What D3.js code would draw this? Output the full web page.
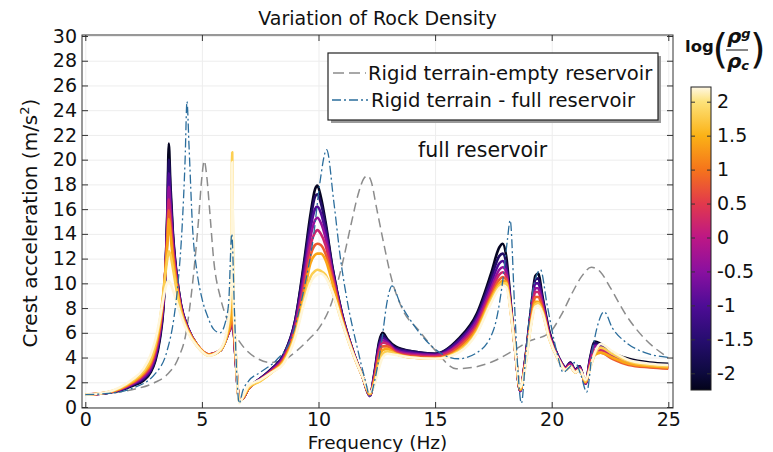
<!DOCTYPE html>
<html><head><meta charset="utf-8">
<script src="https://cdn.jsdelivr.net/npm/d3@7/dist/d3.min.js"></script>
<style>body{margin:0;background:#fff;} svg text{font-family:"DejaVu Sans",sans-serif;}</style>
</head><body><svg id="chart" width="773" height="452"></svg>
<script>
// ---------------- data ----------------
const titleText = "Variation of Rock Density";
const xLabel = "Frequency (Hz)";
const yLabel = "Crest acceleration (m/s";
const annotation = "full reservoir";
const legendLabels = ["Rigid terrain-empty reservoir", "Rigid terrain - full reservoir"];
const xTicks = [0, 5, 10, 15, 20, 25];
const yTicks = [0, 2, 4, 6, 8, 10, 12, 14, 16, 18, 20, 22, 24, 26, 28, 30];
const cbTicks = [2, 1.5, 1, 0.5, 0, -0.5, -1, -1.5, -2];

// colored family (log(rho_g/rho_c)) sampled on a shared frequency grid
const freqGrid = [0, 0.5, 1, 1.5, 2, 2.5, 2.8, 3.0, 3.2, 3.35, 3.45, 3.52, 3.58, 3.65, 3.75, 3.9, 4.1, 4.4, 4.8, 5.3,
  5.8, 6.1, 6.25, 6.3, 6.35, 6.45, 6.6, 6.75, 7.0, 7.5, 8.0, 8.5, 9.0, 9.4, 9.65, 9.85, 9.95, 10.1, 10.3, 10.6,
  11.0, 11.5, 11.9, 12.2, 12.4, 12.6, 12.75, 12.95, 13.3, 14.0, 15.0, 16.0, 16.8, 17.4, 17.75, 17.9, 18.05, 18.25, 18.45, 18.65,
  18.85, 19.1, 19.3, 19.42, 19.6, 19.9, 20.3, 20.6, 20.8, 21.0, 21.2, 21.45, 21.65, 21.85, 22.1, 22.6, 23.3, 24.2, 25];
const logRatios = [-2.2, -1.6, -1.0, -0.4, 0.2, 0.8, 1.4, 1.8, 2.2];
const curveLogm22 = [1.0, 1.05, 1.15, 1.35, 1.7, 2.15, 2.8, 3.7, 5.5, 8.0, 11.5, 16.0, 21.3, 18.0, 14.3, 11.0, 8.3, 6.4, 5.0, 4.25,
  4.6, 5.8, 6.6, 6.9, 6.5, 3.8, 0.6, 0.7, 1.5, 2.3, 3.1, 4.2, 7.0, 12.0, 15.5, 17.6, 17.9, 17.0, 15.0, 11.3,
  7.6, 4.4, 2.4, 0.9, 2.8, 5.3, 6.0, 5.5, 4.9, 4.5, 4.3, 5.5, 7.6, 10.8, 12.9, 13.2, 12.2, 8.3, 4.3, 1.3,
  3.6, 7.7, 10.6, 10.8, 9.0, 6.1, 4.0, 3.2, 3.6, 3.0, 3.3, 1.9, 4.0, 5.3, 5.1, 4.4, 3.9, 3.6, 3.5];
const curveLogm16 = [1.0, 1.05, 1.16, 1.37, 1.75, 2.25, 2.9, 3.85, 5.7, 8.2, 11.6, 15.6, 20.0, 17.4, 14.0, 10.9, 8.3, 6.4, 5.0, 4.25,
  4.6, 5.8, 6.6, 6.9, 6.5, 3.8, 0.6, 0.7, 1.5, 2.3, 3.1, 4.2, 7.0, 11.7, 15.0, 17.0, 17.2, 16.5, 14.7, 11.2,
  7.6, 4.4, 2.4, 0.9, 2.7, 5.1, 5.8, 5.4, 4.8, 4.5, 4.3, 5.4, 7.4, 10.4, 12.2, 12.4, 11.6, 8.1, 4.3, 1.3,
  3.6, 7.6, 10.3, 10.4, 8.8, 6.0, 4.0, 3.2, 3.6, 3.0, 3.3, 1.9, 3.9, 5.2, 5.0, 4.3, 3.8, 3.5, 3.4];
const curveLogm10 = [1.0, 1.05, 1.17, 1.4, 1.8, 2.35, 3.0, 4.0, 5.9, 8.4, 11.6, 15.0, 18.9, 16.7, 13.7, 10.8, 8.2, 6.4, 5.0, 4.25,
  4.6, 5.8, 6.6, 6.9, 6.5, 3.8, 0.6, 0.7, 1.5, 2.3, 3.0, 4.1, 6.8, 11.2, 14.4, 16.0, 16.2, 15.7, 14.2, 11.0,
  7.5, 4.4, 2.4, 0.9, 2.6, 4.9, 5.6, 5.3, 4.7, 4.4, 4.2, 5.3, 7.2, 10.0, 11.6, 11.8, 11.2, 8.0, 4.3, 1.3,
  3.5, 7.4, 10.0, 10.0, 8.6, 5.9, 4.0, 3.2, 3.5, 3.0, 3.2, 1.9, 3.8, 5.0, 4.9, 4.2, 3.7, 3.4, 3.3];
const curveLogm04 = [1.0, 1.06, 1.18, 1.42, 1.85, 2.45, 3.15, 4.2, 6.1, 8.6, 11.6, 14.5, 17.8, 16.0, 13.3, 10.6, 8.1, 6.3, 5.0, 4.25,
  4.6, 5.8, 6.6, 6.9, 6.5, 3.8, 0.6, 0.7, 1.5, 2.2, 3.0, 4.0, 6.6, 10.7, 13.7, 15.1, 15.3, 14.9, 13.7, 10.8,
  7.4, 4.3, 2.4, 0.9, 2.5, 4.7, 5.4, 5.2, 4.6, 4.3, 4.2, 5.1, 7.0, 9.6, 11.1, 11.3, 10.9, 7.9, 4.3, 1.3,
  3.5, 7.2, 9.6, 9.6, 8.4, 5.8, 3.9, 3.1, 3.5, 2.9, 3.2, 1.9, 3.7, 4.9, 4.8, 4.1, 3.6, 3.3, 3.2];
const curveLogp02 = [1.0, 1.06, 1.19, 1.45, 1.9, 2.55, 3.3, 4.4, 6.3, 8.8, 11.5, 14.0, 16.8, 15.3, 12.9, 10.4, 8.0, 6.3, 5.0, 4.25,
  4.6, 5.8, 6.6, 7.0, 6.6, 3.9, 0.6, 0.7, 1.5, 2.2, 2.9, 3.9, 6.4, 10.2, 13.0, 14.1, 14.3, 14.0, 13.1, 10.6,
  7.3, 4.3, 2.4, 1.0, 2.4, 4.5, 5.2, 5.1, 4.5, 4.2, 4.1, 5.0, 6.7, 9.3, 10.7, 10.9, 10.6, 7.8, 4.3, 1.4,
  3.4, 7.0, 9.3, 9.3, 8.2, 5.7, 3.9, 3.1, 3.4, 2.9, 3.1, 2.0, 3.5, 4.6, 4.6, 4.0, 3.5, 3.3, 3.2];
const curveLogp08 = [1.0, 1.06, 1.2, 1.48, 1.95, 2.65, 3.45, 4.6, 6.5, 9.0, 11.5, 13.6, 15.9, 14.6, 12.5, 10.2, 7.9, 6.2, 5.0, 4.25,
  4.6, 5.9, 6.8, 7.4, 6.8, 4.0, 0.5, 0.7, 1.5, 2.2, 2.9, 3.8, 6.2, 9.7, 12.2, 13.1, 13.2, 13.1, 12.4, 10.3,
  7.2, 4.3, 2.4, 1.0, 2.2, 4.2, 4.9, 4.9, 4.4, 4.1, 4.0, 4.8, 6.5, 9.0, 10.3, 10.5, 10.3, 7.7, 4.3, 1.4,
  3.3, 6.8, 8.9, 8.9, 8.0, 5.6, 3.8, 3.0, 3.3, 2.8, 3.0, 2.0, 3.3, 4.3, 4.4, 3.9, 3.4, 3.2, 3.1];
const curveLogp14 = [1.0, 1.07, 1.21, 1.5, 2.0, 2.75, 3.6, 4.8, 6.7, 9.2, 11.4, 13.2, 15.2, 14.0, 12.1, 10.0, 7.8, 6.2, 5.0, 4.2,
  4.6, 5.9, 7.2, 9.0, 7.4, 4.2, 0.5, 0.7, 1.5, 2.1, 2.8, 3.7, 6.0, 9.3, 11.6, 12.3, 12.4, 12.4, 11.9, 10.0,
  7.1, 4.2, 2.4, 1.0, 2.1, 3.9, 4.6, 4.7, 4.3, 4.0, 3.9, 4.6, 6.3, 8.8, 10.0, 10.2, 10.1, 7.6, 4.3, 1.4,
  3.2, 6.6, 8.5, 8.5, 7.8, 5.5, 3.8, 3.0, 3.3, 2.8, 3.0, 2.0, 3.2, 4.2, 4.4, 4.0, 3.5, 3.3, 3.2];
const curveLogp18 = [1.0, 1.07, 1.22, 1.55, 2.1, 2.9, 3.8, 5.0, 7.0, 9.3, 11.0, 12.0, 12.6, 12.3, 11.3, 9.6, 7.7, 6.1, 4.9, 4.15,
  4.6, 6.2, 9.5, 20.6, 9.0, 4.5, 0.4, 0.8, 1.6, 2.1, 2.8, 3.6, 5.8, 8.8, 10.5, 11.0, 11.1, 11.0, 10.7, 9.3,
  6.9, 4.2, 2.4, 1.1, 1.9, 3.5, 4.3, 4.5, 4.3, 4.0, 3.9, 4.5, 6.1, 8.6, 9.8, 10.0, 10.0, 7.6, 4.3, 1.5,
  3.1, 6.5, 8.3, 8.4, 7.7, 5.5, 3.8, 3.0, 3.3, 2.8, 3.0, 2.1, 3.2, 4.3, 4.8, 4.3, 3.7, 3.4, 3.3];
const curveLogp22 = [1.0, 1.07, 1.23, 1.6, 2.2, 3.1, 4.2, 5.4, 7.2, 8.8, 9.7, 10.1, 10.2, 10.0, 9.5, 8.6, 7.4, 6.0, 4.9, 4.15,
  4.7, 6.5, 10.0, 19.8, 9.5, 4.7, 0.3, 0.8, 1.7, 2.2, 2.8, 3.5, 5.6, 8.5, 10.0, 10.6, 10.7, 10.8, 10.5, 9.3,
  6.9, 4.2, 2.4, 1.2, 1.8, 3.2, 4.0, 4.3, 4.2, 4.0, 3.9, 4.4, 6.0, 8.4, 9.6, 9.8, 9.7, 7.5, 4.3, 1.6,
  3.0, 6.4, 8.1, 8.2, 7.6, 5.5, 3.8, 3.0, 3.3, 2.8, 3.0, 2.2, 3.1, 4.4, 5.1, 4.5, 3.8, 3.5, 3.4];
const familyValues = [curveLogm22, curveLogm16, curveLogm10, curveLogm04, curveLogp02, curveLogp08, curveLogp14, curveLogp18, curveLogp22];

// rigid terrain - empty reservoir (grey dashed)
const emptyFreq = [0, 1, 2, 3, 3.5, 4.0, 4.3, 4.6, 4.85, 5.0, 5.1, 5.2, 5.35, 5.5, 5.8, 6.1, 6.5, 6.9, 7.4, 7.9,
  8.5, 9.1, 9.6, 10.1, 10.5, 11.0, 11.4, 11.7, 11.95, 12.1, 12.25, 12.5, 12.8, 13.1, 13.6, 14.3, 15.0, 15.9, 16.6, 17.5,
  18.3, 19.0, 19.9, 20.4, 20.9, 21.3, 21.7, 22.1, 22.5, 23.2, 24.0, 25.0];
const emptyValues = [1.0, 1.1, 1.4, 2.0, 2.6, 4.0, 5.8, 10.0, 15.0, 18.6, 19.9, 18.8, 15.5, 12.0, 8.8, 7.0, 5.6, 4.6, 3.9, 3.6,
  3.8, 4.6, 5.5, 6.6, 8.1, 11.4, 14.8, 17.2, 18.5, 18.7, 18.3, 16.0, 13.2, 10.6, 7.9, 6.2, 4.6, 3.1, 3.2, 3.7,
  4.5, 5.3, 6.0, 7.4, 9.3, 10.6, 11.3, 10.9, 9.7, 7.4, 5.5, 4.0];

// rigid terrain - full reservoir (blue dash-dot)
const fullFreq = [0, 1, 2, 3, 3.5, 3.8, 4.0, 4.15, 4.28, 4.36, 4.45, 4.6, 4.8, 5.0, 5.25, 5.5, 5.78, 6.0, 6.15, 6.28,
  6.4, 6.5, 6.6, 6.75, 7.0, 7.5, 8.2, 8.8, 9.35, 9.8, 10.05, 10.35, 10.65, 10.95, 11.25, 11.65, 12.0, 12.2, 12.45, 12.7,
  12.95, 13.15, 13.5, 13.95, 14.6, 15.2, 16.0, 16.8, 17.5, 17.9, 18.1, 18.22, 18.4, 18.55, 18.7, 18.9, 19.2, 19.52, 19.8, 20.2,
  20.5, 20.75, 21.0, 21.25, 21.5, 21.75, 22.0, 22.25, 22.6, 23.2, 24.0, 25.0];
const fullValues = [1.0, 1.1, 1.5, 2.7, 4.5, 7.2, 10.5, 14.5, 20.0, 24.7, 21.0, 14.5, 10.8, 8.8, 7.3, 6.3, 6.0, 6.8, 8.5, 14.0,
  7.5, 2.5, 0.3, 1.3, 2.1, 2.8, 3.8, 5.4, 9.3, 14.0, 18.0, 20.8, 16.7, 11.9, 8.4, 4.9, 2.2, 0.9, 2.5, 5.2,
  8.6, 9.8, 8.4, 7.0, 5.4, 4.4, 3.9, 4.4, 6.2, 10.2, 13.5, 15.1, 8.5, 3.0, 0.3, 4.5, 9.5, 11.1, 8.3, 4.6,
  2.8, 3.2, 3.6, 2.6, 1.2, 4.6, 6.8, 7.7, 6.4, 5.2, 4.4, 4.0];

// colormap stops (log ratio -> colour)
const cmapValues = [-2.25, -2.0, -1.5, -1.0, -0.5, 0.0, 0.5, 1.0, 1.5, 2.0, 2.22];
const cmapColors = ["#03031a", "#0d0a3e", "#270d70", "#4e0c96", "#8a10a0", "#bd1785", "#e2394c", "#f5741b", "#fbb216", "#fde27a", "#fff8e4"];

// ---------------- drawing ----------------
const svg = d3.select("#chart");
const L = 82, R = 673, T = 35, B = 408;
const x = d3.scaleLinear().domain([0, 25]).range([85.3, 668.3]);
const y = d3.scaleLinear().domain([0, 30]).range([407, 36]);
const cmap = d3.scaleLinear().domain(cmapValues).range(cmapColors).interpolate(d3.interpolateRgb).clamp(true);

svg.append("rect").attr("width", 773).attr("height", 452).attr("fill", "#fff");

// grid
svg.append("g").attr("transform", `translate(0,${B})`)
  .call(d3.axisBottom(x).tickValues(xTicks).tickSize(-(B - T)).tickFormat(""))
  .call(g => g.select(".domain").remove())
  .selectAll("line").attr("stroke", "#ededed");
svg.append("g").attr("transform", `translate(${L},0)`)
  .call(d3.axisLeft(y).tickValues(yTicks).tickSize(-(R - L)).tickFormat(""))
  .call(g => g.select(".domain").remove())
  .selectAll("line").attr("stroke", "#ededed");

svg.append("clipPath").attr("id", "clip").append("rect")
  .attr("x", L).attr("y", T).attr("width", R - L).attr("height", B - T);
const plot = svg.append("g").attr("clip-path", "url(#clip)");

const line = d3.line().curve(d3.curveMonotoneX).x(d => x(d[0])).y(d => y(d[1]));

// empty reservoir (grey dashed)
plot.append("path").datum(emptyFreq.map((f, i) => [f, emptyValues[i]]))
  .attr("d", line).attr("fill", "none").attr("stroke", "#8c8c8c").attr("stroke-width", 1.5)
  .attr("stroke-dasharray", "9,5");

// family
familyValues.forEach((vals, k) => {
  plot.append("path").datum(freqGrid.map((f, i) => [f, vals[i]]))
    .attr("d", line).attr("fill", "none").attr("stroke", cmap(logRatios[k]))
    .attr("stroke-width", 2.6).attr("stroke-linejoin", "round");
});

// full reservoir (blue dash-dot)
plot.append("path").datum(fullFreq.map((f, i) => [f, fullValues[i]]))
  .attr("d", line).attr("fill", "none").attr("stroke", "#2b6d9c").attr("stroke-width", 1.3)
  .attr("stroke-dasharray", "9,3,2,3");

// axes (inward ticks on all sides)
const axStyle = g => { g.select(".domain").remove(); g.selectAll("line").attr("stroke", "#333"); g.selectAll("text").attr("font-size", 19).attr("fill", "#111").attr("font-family", "DejaVu Sans"); };
svg.append("g").attr("transform", `translate(0,${B})`)
  .call(d3.axisBottom(x).tickValues(xTicks).tickSizeInner(-6).tickSizeOuter(0).tickPadding(5)).call(axStyle);
svg.append("g").attr("transform", `translate(0,${T})`)
  .call(d3.axisTop(x).tickValues(xTicks).tickSizeInner(-6).tickSizeOuter(0).tickFormat("")).call(axStyle);
svg.append("g").attr("transform", `translate(${L},0)`)
  .call(d3.axisLeft(y).tickValues(yTicks).tickSizeInner(-6).tickSizeOuter(0).tickPadding(5)).call(axStyle);
svg.append("g").attr("transform", `translate(${R},0)`)
  .call(d3.axisRight(y).tickValues(yTicks).tickSizeInner(-6).tickSizeOuter(0).tickFormat("")).call(axStyle);
svg.append("rect").attr("x", L).attr("y", T).attr("width", R - L).attr("height", B - T)
  .attr("fill", "none").attr("stroke", "#333").attr("stroke-width", 1);

// labels
svg.append("text").attr("x", 377.5).attr("y", 25).attr("text-anchor", "middle")
  .attr("font-size", 19).attr("fill", "#111").text(titleText);
svg.append("text").attr("x", 377.5).attr("y", 448.5).attr("text-anchor", "middle")
  .attr("font-size", 18.5).attr("fill", "#111").text(xLabel);
const yl = svg.append("text").attr("transform", "translate(37,223) rotate(-90)").attr("text-anchor", "middle")
  .attr("font-size", 20).attr("fill", "#111");
yl.append("tspan").text(yLabel);
yl.append("tspan").attr("font-size", 13).attr("dy", -8).text("2");
yl.append("tspan").attr("dy", 8).text(")");
svg.append("text").attr("x", 418).attr("y", 157).attr("font-size", 20.5).attr("fill", "#111").text(annotation);

// legend
svg.append("rect").attr("x", 331).attr("y", 56).attr("width", 330).attr("height", 67).attr("fill", "#9a9a9a");
svg.append("rect").attr("x", 328).attr("y", 53).attr("width", 330).attr("height", 67)
  .attr("fill", "#fff").attr("stroke", "#222").attr("stroke-width", 1.2);
svg.append("line").attr("x1", 333).attr("x2", 366).attr("y1", 73).attr("y2", 73)
  .attr("stroke", "#8c8c8c").attr("stroke-width", 1.5).attr("stroke-dasharray", "11,5");
svg.append("line").attr("x1", 332).attr("x2", 368).attr("y1", 100).attr("y2", 100)
  .attr("stroke", "#2b6d9c").attr("stroke-width", 1.3).attr("stroke-dasharray", "9,3,2,3");
svg.append("text").attr("x", 368).attr("y", 80).attr("font-size", 19.6).attr("fill", "#111").text(legendLabels[0]);
svg.append("text").attr("x", 371).attr("y", 107).attr("font-size", 19.6).attr("fill", "#111").text(legendLabels[1]);

// colorbar
const cbX = 691, cbW = 20, cbTop = 87, cbBot = 390;
const cb = d3.scaleLinear().domain([-2, 2]).range([373.3, 101.7]);
const grad = svg.append("defs").append("linearGradient").attr("id", "cbgrad")
  .attr("x1", 0).attr("x2", 0).attr("y1", 1).attr("y2", 0);
cmapValues.forEach((v, i) => {
  grad.append("stop").attr("offset", (cbBot - cb(v)) / (cbBot - cbTop)).attr("stop-color", cmapColors[i]);
});
svg.append("rect").attr("x", cbX).attr("y", cbTop).attr("width", cbW).attr("height", cbBot - cbTop)
  .attr("fill", "url(#cbgrad)").attr("stroke", "#222").attr("stroke-width", 1);
svg.append("g").attr("transform", `translate(${cbX + cbW},0)`)
  .call(d3.axisRight(cb).tickValues(cbTicks).tickSizeInner(-4).tickSizeOuter(0).tickPadding(6).tickFormat(d => String(d)))
  .call(axStyle);
svg.append("g").attr("transform", `translate(${cbX},0)`)
  .call(d3.axisLeft(cb).tickValues(cbTicks).tickSizeInner(-4).tickSizeOuter(0).tickFormat(""))
  .call(axStyle);

// colorbar title: log(rho_g / rho_c)
const ser = "'Liberation Serif','DejaVu Serif',serif";
svg.append("text").attr("x", 685).attr("y", 52).attr("font-family", ser).attr("font-weight", "bold")
  .attr("font-size", 16.5).attr("fill", "#111").text("log");
svg.append("text").attr("x", 712.5).attr("y", 63).attr("font-family", ser).attr("font-size", 40)
  .attr("fill", "#111").text("(");
svg.append("text").attr("x", 750).attr("y", 63).attr("font-family", ser).attr("font-size", 40)
  .attr("fill", "#111").text(")");
const num = svg.append("text").attr("x", 727).attr("y", 43).attr("font-family", ser).attr("font-weight", "bold")
  .attr("font-style", "italic").attr("font-size", 20).attr("fill", "#111");
num.append("tspan").text("ρ");
num.append("tspan").attr("font-size", 13).attr("dy", -5).text("g");
svg.append("line").attr("x1", 726).attr("x2", 748).attr("y1", 50).attr("y2", 50).attr("stroke", "#111").attr("stroke-width", 1);
const den = svg.append("text").attr("x", 727).attr("y", 68).attr("font-family", ser).attr("font-weight", "bold")
  .attr("font-style", "italic").attr("font-size", 20).attr("fill", "#111");
den.append("tspan").text("ρ");
den.append("tspan").attr("font-size", 13).attr("dy", 2).text("c");
</script>
</body></html>
